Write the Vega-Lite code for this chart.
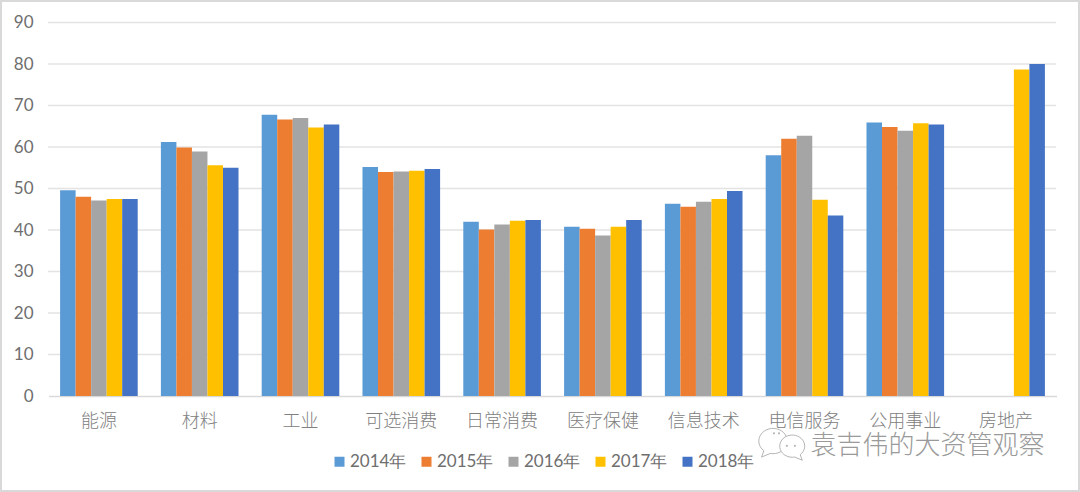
{
"$schema":"https://vega.github.io/schema/vega-lite/v6.json",
"width":1080,"height":492,"padding":0,"autosize":{"type":"none"},"background":"white",
"view":{"stroke":"#d9d9d9","strokeWidth":4,"fill":"white"},
"resolve":{"scale":{"x":"independent"},"axis":{"x":"independent"}},
"config":{"axisY":{"orient":"left","offset":-48,"values":[0,10,20,30,40,50,60,70,80,90],"title":null,"grid":false,"domain":false,"ticks":false,"labelPadding":15,"labelFont":"Lato","labelFontSize":17,"labelColor":"#6e6e6e"}},
"layer":[
{"data":{"values":[{"v":10},{"v":20},{"v":30},{"v":40},{"v":50},{"v":60},{"v":70},{"v":80},{"v":90}]},
 "mark":{"type":"rule","stroke":"#e3e3e3","strokeWidth":1.3},
 "encoding":{
  "x":{"datum":0,"type":"quantitative","scale":{"domain":[0,1],"range":[48,1056]},"axis":null},
  "x2":{"datum":1},
  "y":{"field":"v","type":"quantitative","title":null,"scale":{"domain":[0,90],"range":[396,22.5],"nice":false},"axis":{"offset":-48,"values":[0,10,20,30,40,50,60,70,80,90]}}
 }},
{"data":{"values":[
{"c":"能源","s":"2014年","v":49.6},{"c":"能源","s":"2015年","v":48},{"c":"能源","s":"2016年","v":47.1},{"c":"能源","s":"2017年","v":47.5},{"c":"能源","s":"2018年","v":47.5},
{"c":"材料","s":"2014年","v":61.2},{"c":"材料","s":"2015年","v":59.9},{"c":"材料","s":"2016年","v":58.9},{"c":"材料","s":"2017年","v":55.6},{"c":"材料","s":"2018年","v":55},
{"c":"工业","s":"2014年","v":67.8},{"c":"工业","s":"2015年","v":66.6},{"c":"工业","s":"2016年","v":67},{"c":"工业","s":"2017年","v":64.7},{"c":"工业","s":"2018年","v":65.4},
{"c":"可选消费","s":"2014年","v":55.2},{"c":"可选消费","s":"2015年","v":54},{"c":"可选消费","s":"2016年","v":54.1},{"c":"可选消费","s":"2017年","v":54.3},{"c":"可选消费","s":"2018年","v":54.7},
{"c":"日常消费","s":"2014年","v":42},{"c":"日常消费","s":"2015年","v":40.1},{"c":"日常消费","s":"2016年","v":41.3},{"c":"日常消费","s":"2017年","v":42.2},{"c":"日常消费","s":"2018年","v":42.4},
{"c":"医疗保健","s":"2014年","v":40.8},{"c":"医疗保健","s":"2015年","v":40.3},{"c":"医疗保健","s":"2016年","v":38.7},{"c":"医疗保健","s":"2017年","v":40.8},{"c":"医疗保健","s":"2018年","v":42.4},
{"c":"信息技术","s":"2014年","v":46.3},{"c":"信息技术","s":"2015年","v":45.6},{"c":"信息技术","s":"2016年","v":46.8},{"c":"信息技术","s":"2017年","v":47.5},{"c":"信息技术","s":"2018年","v":49.4},
{"c":"电信服务","s":"2014年","v":58},{"c":"电信服务","s":"2015年","v":62},{"c":"电信服务","s":"2016年","v":62.7},{"c":"电信服务","s":"2017年","v":47.3},{"c":"电信服务","s":"2018年","v":43.5},
{"c":"公用事业","s":"2014年","v":65.9},{"c":"公用事业","s":"2015年","v":64.8},{"c":"公用事业","s":"2016年","v":63.9},{"c":"公用事业","s":"2017年","v":65.7},{"c":"公用事业","s":"2018年","v":65.4},
{"c":"房地产","s":"2017年","v":78.7},{"c":"房地产","s":"2018年","v":80}
]},
 "mark":{"type":"bar"},
 "encoding":{
  "x":{"field":"c","type":"nominal","sort":null,"title":null,
   "scale":{"domain":["能源","材料","工业","可选消费","日常消费","医疗保健","信息技术","电信服务","公用事业","房地产"],"range":[48.5,1056.5],"paddingInner":0.23,"paddingOuter":0.115},
   "axis":{"orient":"bottom","offset":-96,"labelAngle":0,"ticks":false,"domainColor":"#d9d9d9","domainWidth":1.3,"labelPadding":16,"labelFont":"Noto Sans CJK SC","labelFontSize":18,"labelFontWeight":300,"labelColor":"#808080","grid":false}},
  "xOffset":{"field":"s","type":"nominal","sort":["2014年","2015年","2016年","2017年","2018年"]},
  "y":{"field":"v","type":"quantitative","title":null,"scale":{"domain":[0,90],"range":[396,22.5],"nice":false},"axis":{"offset":-48,"values":[0,10,20,30,40,50,60,70,80,90]}},
  "color":{"field":"s","type":"nominal",
   "scale":{"domain":["2014年","2015年","2016年","2017年","2018年"],"range":["#5B9BD5","#ED7D31","#A5A5A5","#FFC000","#4472C4"]},
   "legend":{"orient":"none","legendX":331,"legendY":453,"direction":"horizontal","title":null,"symbolType":"square","symbolSize":100,"symbolStrokeWidth":0,"labelFont":"Lato","labelFontSize":17,"labelColor":"#6e6e6e","labelOffset":2,"columnPadding":11}}
 }},
{"data":{"values":[{"n":"bubble"}]},
 "mark":{"type":"point","shape":"M -0.7,0.55 A 0.9 0.8 0 1 1 -0.3 0.72 L -0.85 0.95 Z","size":1000,"filled":false,"stroke":"#b5b5b5","strokeWidth":1,"opacity":1},
 "encoding":{
  "x":{"datum":0.7212,"type":"quantitative","scale":{"domain":[0,1],"range":[48,1056]},"axis":null},
  "y":{"datum":-11.1,"type":"quantitative","title":null,"scale":{"domain":[0,90],"range":[396,22.5],"nice":false},"axis":{"offset":-48,"values":[0,10,20,30,40,50,60,70,80,90]}}
 }},
{"data":{"values":[{"n":"bubble"}]},
 "mark":{"type":"point","shape":"M 0.7,0.55 A 0.9 0.8 0 1 0 0.3 0.72 L 0.85 0.95 Z","size":770,"filled":true,"fill":"white","stroke":"#b5b5b5","strokeWidth":1,"opacity":1},
 "encoding":{
  "x":{"datum":0.7366,"type":"quantitative","scale":{"domain":[0,1],"range":[48,1056]},"axis":null},
  "y":{"datum":-12.3,"type":"quantitative","title":null,"scale":{"domain":[0,90],"range":[396,22.5],"nice":false},"axis":{"offset":-48,"values":[0,10,20,30,40,50,60,70,80,90]}}
 }},
{"data":{"values":[{"a":0.7252,"b":-9.0},{"a":0.7202,"b":-9.0},{"a":0.733,"b":-12.0},{"a":0.741,"b":-12.0}]},
 "mark":{"type":"point","shape":"circle","size":5,"filled":true,"fill":"#b5b5b5","opacity":1},
 "encoding":{
  "x":{"field":"a","type":"quantitative","scale":{"domain":[0,1],"range":[48,1056]},"axis":null},
  "y":{"field":"b","type":"quantitative","title":null,"scale":{"domain":[0,90],"range":[396,22.5],"nice":false},"axis":{"offset":-48,"values":[0,10,20,30,40,50,60,70,80,90]}}
 }},
{"data":{"values":[{"t":"袁吉伟的大资管观察"}]},
 "mark":{"type":"text","align":"left","baseline":"middle","font":"Noto Sans CJK SC","fontSize":26,"fontWeight":300,"fill":"#9a9a9a"},
 "encoding":{
  "x":{"datum":0.7565,"type":"quantitative","scale":{"domain":[0,1],"range":[48,1056]},"axis":null},
  "y":{"datum":-12,"type":"quantitative","title":null,"scale":{"domain":[0,90],"range":[396,22.5],"nice":false},"axis":{"offset":-48,"values":[0,10,20,30,40,50,60,70,80,90]}},
  "text":{"field":"t"}
 }}
]}
